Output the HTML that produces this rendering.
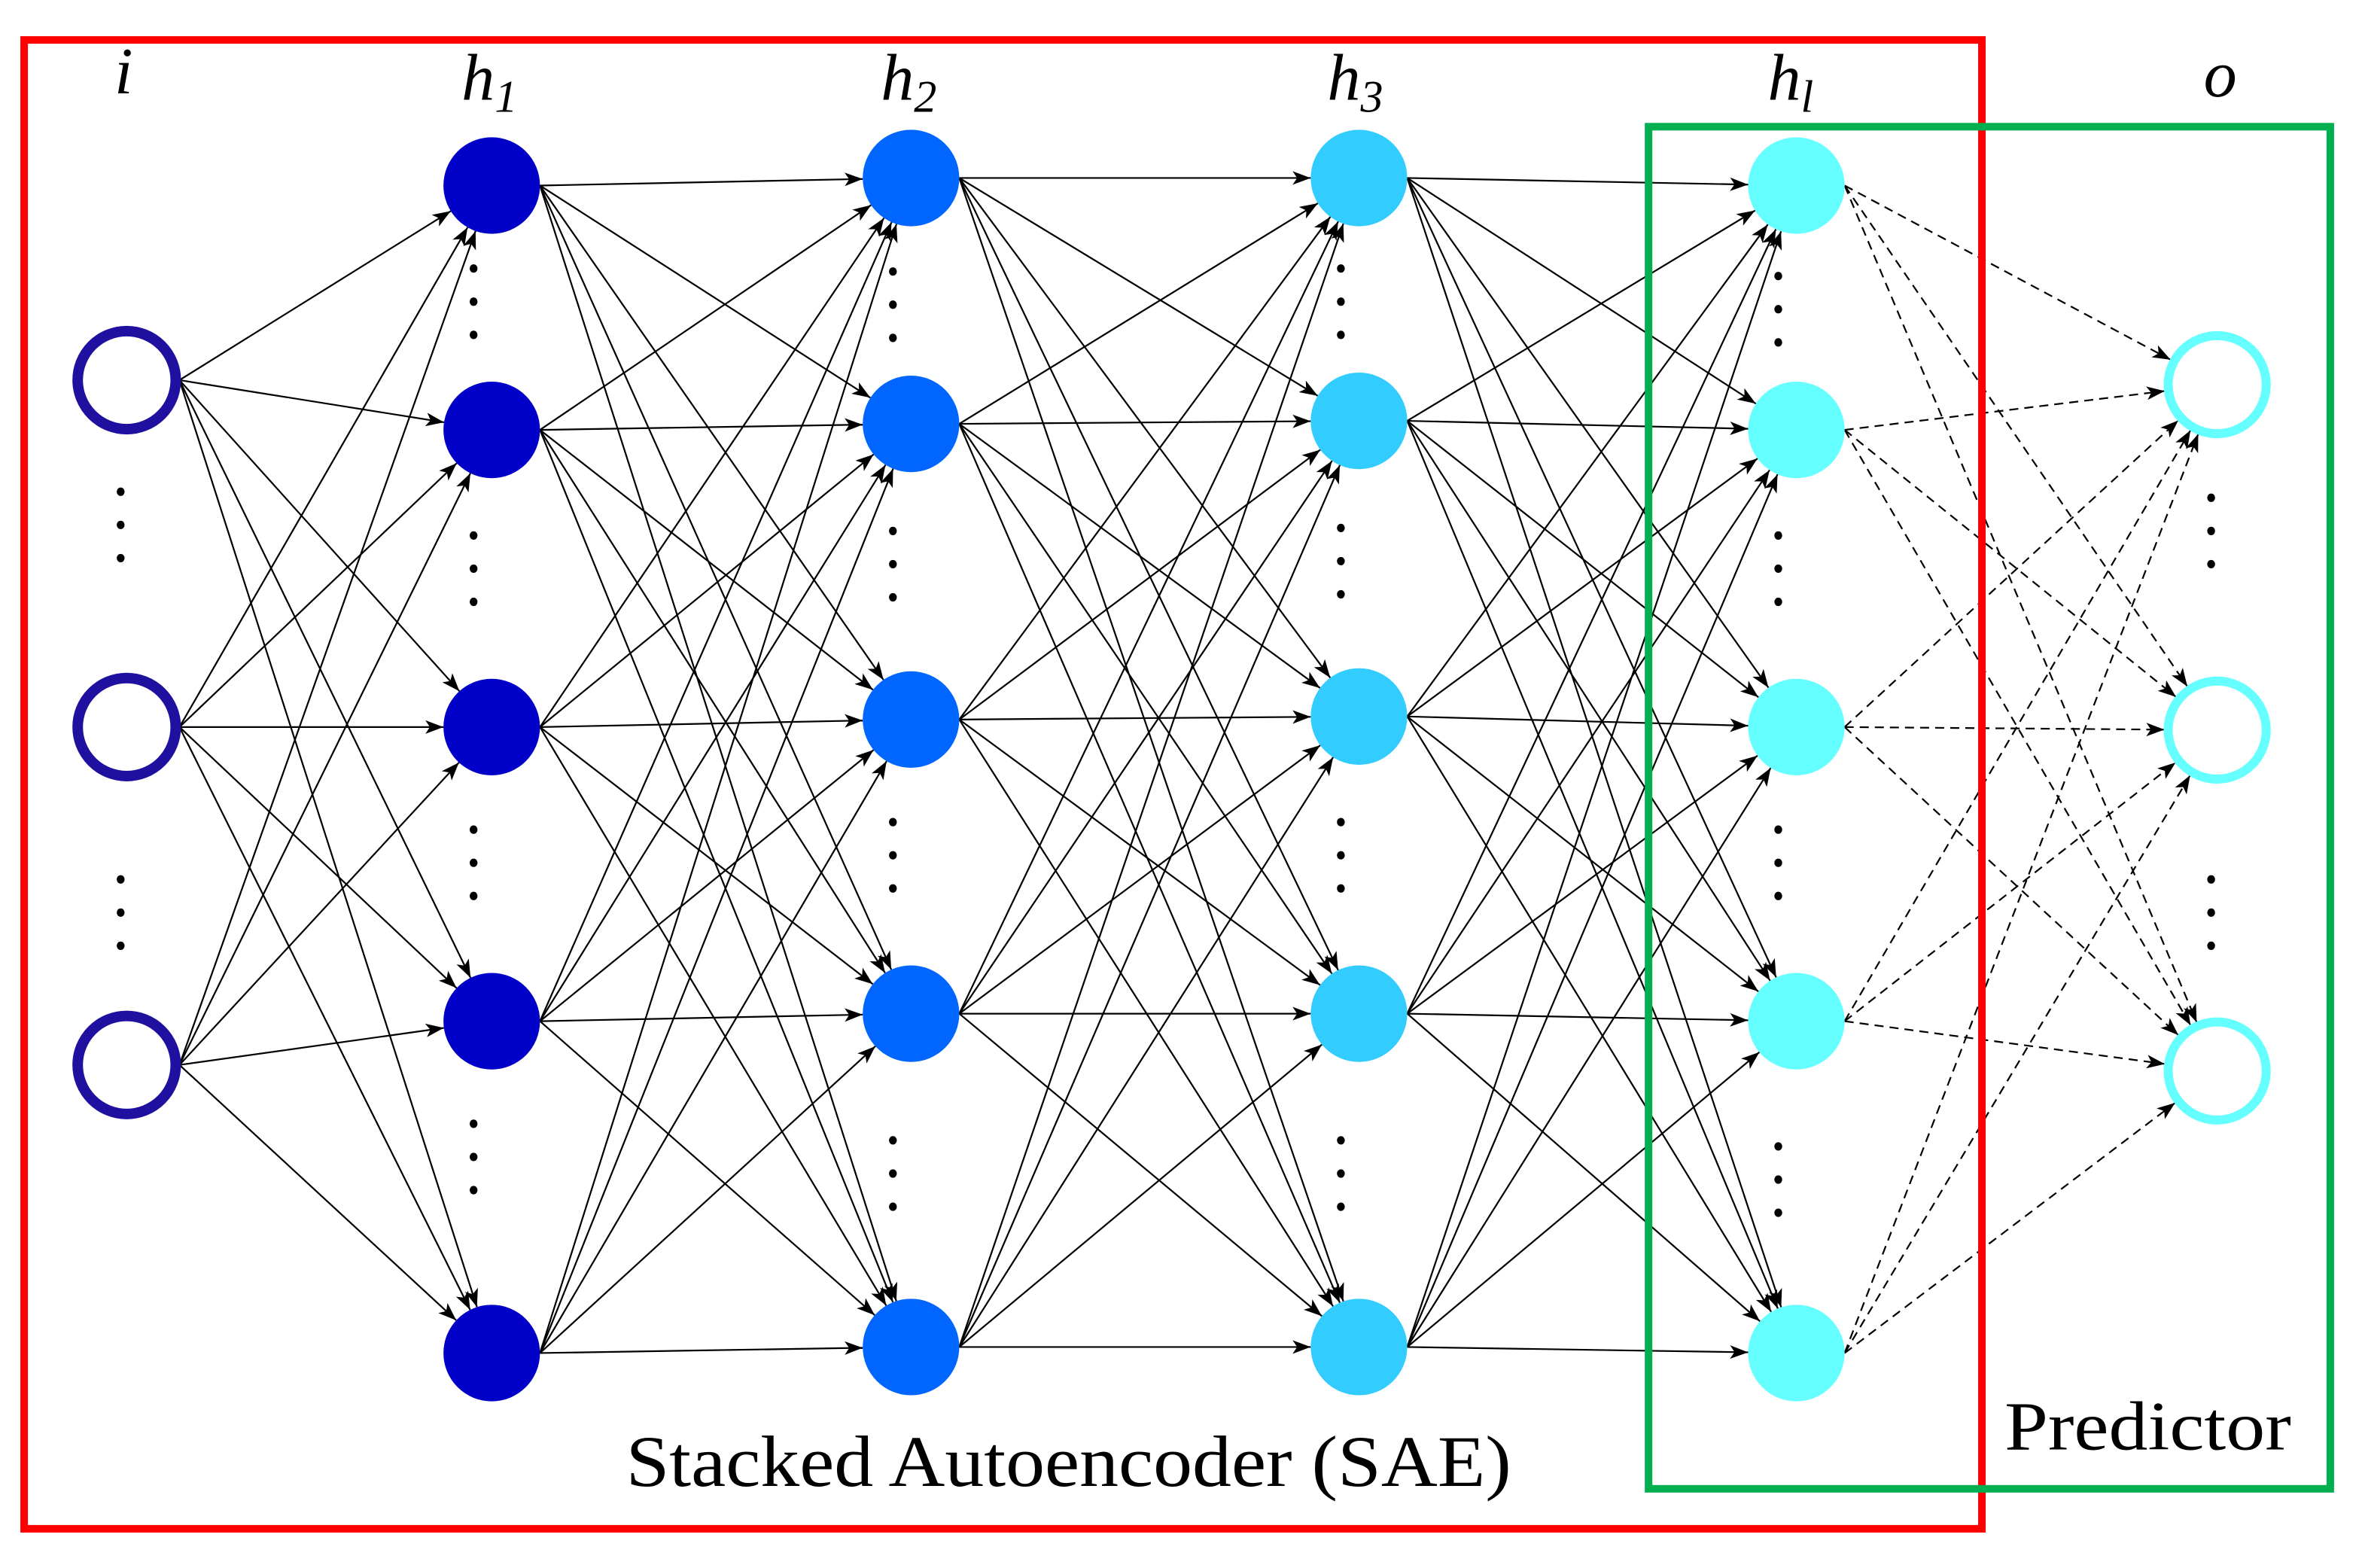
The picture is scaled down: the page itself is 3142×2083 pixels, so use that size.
<!DOCTYPE html>
<html><head><meta charset="utf-8">
<style>
html,body{margin:0;padding:0;background:#fff;}
svg{display:block;}
text{font-family:"Liberation Serif",serif;fill:#000;}
</style></head>
<body>
<svg id="s" width="3142" height="2083" viewBox="0 0 1568 1039.5" preserveAspectRatio="none" xmlns="http://www.w3.org/2000/svg">
<defs>
<marker id="ar" markerUnits="userSpaceOnUse" markerWidth="13" markerHeight="9" refX="12" refY="4.5" orient="auto">
<path d="M0,0 L12,4.5 L0,9 L3,4.5 z" fill="#000"/>
</marker>
</defs>
<rect width="1568" height="1039.5" fill="#fff"/>
<g id="edges"></g>
<g id="nodes"></g>
<g id="dots" fill="#000"></g>
<rect x="16" y="26.5" width="1298" height="987" fill="none" stroke="#ff0000" stroke-width="5"/>
<rect x="1093" y="84" width="452" height="903" fill="none" stroke="#00b050" stroke-width="5"/>
<text x="82" y="62" font-size="44" font-style="italic" text-anchor="middle">i</text>
<text x="306" y="66" font-size="44" font-style="italic">h<tspan font-size="30" dy="8">1</tspan></text>
<text x="584" y="66" font-size="44" font-style="italic">h<tspan font-size="30" dy="8">2</tspan></text>
<text x="880" y="66" font-size="44" font-style="italic">h<tspan font-size="30" dy="8">3</tspan></text>
<text x="1172" y="66" font-size="44" font-style="italic">h<tspan font-size="30" dy="8">l</tspan></text>
<text x="1472" y="64" font-size="44" font-style="italic" text-anchor="middle">o</text>
<text x="415" y="985" font-size="48" textLength="587" lengthAdjust="spacingAndGlyphs">Stacked Autoencoder (SAE)</text>
<text x="1329" y="961" font-size="46" textLength="190" lengthAdjust="spacingAndGlyphs">Predictor</text>
</svg>
<script>
(function(){
var NS="http://www.w3.org/2000/svg";
var L=[
 {x:84,ys:[252,482,706],ring:true,c:"#2010a0",sw:7},
 {x:326,ys:[123,285,482,677,897],c:"#0000c8"},
 {x:604,ys:[118,281,477,672,893],c:"#0066ff"},
 {x:901,ys:[118,279,475,672,893],c:"#33ccff"},
 {x:1191,ys:[123,285,482,677,897],c:"#66ffff"},
 {x:1470,ys:[255,484,710],ring:true,c:"#66ffff",sw:6}
];
var R=32;
var eg=document.getElementById("edges"),ng=document.getElementById("nodes"),dg=document.getElementById("dots");
function el(n,a,p){var e=document.createElementNS(NS,n);for(var k in a)e.setAttribute(k,a[k]);p.appendChild(e);return e;}
for(var li=0;li<L.length-1;li++){
 var A=L[li],B=L[li+1],dash=(li==4);
 A.ys.forEach(function(ya){
  var sx=A.x+R+(A.ring?3:0),sy=ya;
  B.ys.forEach(function(yb){
   var rr=R+(B.ring?3:0);
   var dx=B.x-sx,dy=yb-sy,d=Math.sqrt(dx*dx+dy*dy);
   var ex=B.x-dx/d*rr,ey=yb-dy/d*rr;
   var a={x1:sx,y1:sy,x2:ex,y2:ey,stroke:"#000","stroke-width":1.1,"marker-end":"url(#ar)"};
   if(dash)a["stroke-dasharray"]="6 4";
   el("line",a,eg);
  });
 });
}
L.forEach(function(l){
 l.ys.forEach(function(y){
  if(l.ring) el("circle",{cx:l.x,cy:y,r:R+0.5,fill:"#fff",stroke:l.c,"stroke-width":l.sw},ng);
  else el("circle",{cx:l.x,cy:y,r:R,fill:l.c},ng);
 });
});
var D=[
 [80,[348,605]],
 [314,[200,377,572,767]],
 [592,[202,374,567,778]],
 [889,[200,372,567,778]],
 [1179,[205,377,572,782]],
 [1466,[352,605]]
];
D.forEach(function(g){g[1].forEach(function(c){[-22,0,22].forEach(function(o){el("ellipse",{cx:g[0],cy:c+o,rx:2.6,ry:2.8},dg);});});});
})();
</script>
</body></html>
